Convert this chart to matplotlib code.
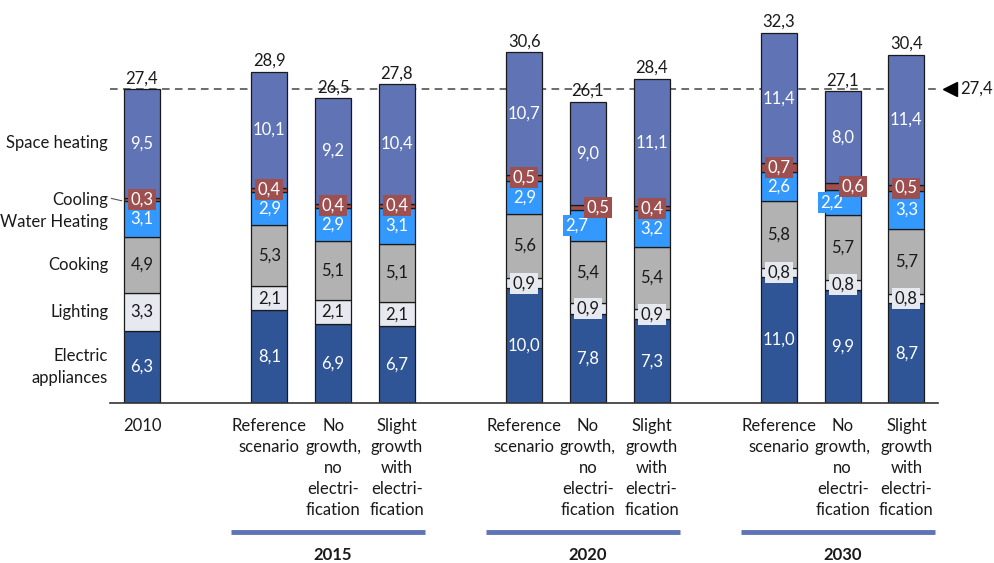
import matplotlib
matplotlib.use("Agg")
import matplotlib.pyplot as plt
import numpy as np

plt.rcParams['font.family'] = ['Lato', 'DejaVu Sans']

# Bar labels and slot positions (empty slots separate the year groups)
bar_labels = ["2010",
              "Reference\nscenario", "No\ngrowth,\nno\nelectri-\nfication", "Slight\ngrowth\nwith\nelectri-\nfication",
              "Reference\nscenario", "No\ngrowth,\nno\nelectri-\nfication", "Slight\ngrowth\nwith\nelectri-\nfication",
              "Reference\nscenario", "No\ngrowth,\nno\nelectri-\nfication", "Slight\ngrowth\nwith\nelectri-\nfication"]
slots = [0, 2, 3, 4, 6, 7, 8, 10, 11, 12]
groups = ["2015", "2020", "2030"]

categories = ["Electric\nappliances", "Lighting", "Cooking", "Water Heating", "Cooling", "Space heating"]
appliances = [6.3, 8.1, 6.9, 6.7, 10.0, 7.8, 7.3, 11.0, 9.9, 8.7]
lighting = [3.3, 2.1, 2.1, 2.1, 0.9, 0.9, 0.9, 0.8, 0.8, 0.8]
cooking = [4.9, 5.3, 5.1, 5.1, 5.6, 5.4, 5.4, 5.8, 5.7, 5.7]
water_heating = [3.1, 2.9, 2.9, 3.1, 2.9, 2.7, 3.2, 2.6, 2.2, 3.3]
cooling = [0.3, 0.4, 0.4, 0.4, 0.5, 0.5, 0.4, 0.7, 0.6, 0.5]
space_heating = [9.5, 10.1, 9.2, 10.4, 10.7, 9.0, 11.1, 11.4, 8.0, 11.4]
totals = [27.4, 28.9, 26.5, 27.8, 30.6, 26.1, 28.4, 32.3, 27.1, 30.4]
baseline_2010 = 27.4

series = [appliances, lighting, cooking, water_heating, cooling, space_heating]
colors = ["#2F5597", "#E6E9EF", "#B2B2B2", "#3399FF", "#9E4F4F", "#5F73B5"]
text_colors = ["white", "#1a1a1a", "#1a1a1a", "white", "white", "white"]

FS = 12
W, H = 994, 563
fig = plt.figure(figsize=(W / 100, H / 100), dpi=100)

# Axes placed so that slot 0 sits at x=142px, slot spacing 63.7px, y unit 11.46px
px_left, px_right = 110, 938
px_base, px_top = 403, 20
slot_px = 63.7
x0_px = 142
unit_px = 11.46
ax = fig.add_axes([px_left / W, 1 - px_base / H, (px_right - px_left) / W, (px_base - px_top) / H])
ax.set_xlim((px_left - x0_px) / slot_px, (px_right - x0_px) / slot_px)
ax.set_ylim(0, (px_base - px_top) / unit_px)
for s in ["top", "right", "left"]:
    ax.spines[s].set_visible(False)
ax.spines["bottom"].set_color("#333333")
ax.spines["bottom"].set_linewidth(1.2)
ax.set_yticks([])
ax.tick_params(axis="x", length=0, pad=11)
ax.set_xticks(slots)
ax.set_xticklabels(bar_labels, fontsize=FS, color="#1a1a1a", linespacing=1.38, va="top")

bw = 0.565
x = np.array(slots, dtype=float)
bottom = np.zeros(len(x))
seg_centers = []
for vals, col in zip(series, colors):
    v = np.array(vals)
    ax.bar(x, v, bw, bottom=bottom, color=col, edgecolor="#1a1a1a", linewidth=0.9, zorder=2)
    seg_centers.append(bottom + v / 2)
    bottom = bottom + v

# Label offsets (in slots) for crowded bars
x_shift = {(3, 5): -0.17, (4, 5): 0.16, (3, 8): -0.17, (4, 8): 0.16}

for k, (vals, tc) in enumerate(zip(series, text_colors)):
    for i, v in enumerate(vals):
        txt = f"{v:.1f}".replace(".", ",")
        xi = x[i] + x_shift.get((k, i), 0)
        yi = seg_centers[k][i]
        box = None
        if k == 4:
            box = dict(boxstyle="square,pad=0.15", fc=colors[4], ec="none")
        elif k == 1 and v < 1.5:
            box = dict(boxstyle="square,pad=0.15", fc=colors[1], ec="none")
        elif k == 3 and (k, i) in x_shift:
            box = dict(boxstyle="square,pad=0.15", fc=colors[3], ec="none")
        ax.text(xi, yi, txt, ha="center", va="center", fontsize=FS, color=tc,
                bbox=box, zorder=4)

# Totals on top of each bar
for i, t in enumerate(totals):
    ax.text(x[i], bottom[i] + 0.25, f"{t:.1f}".replace(".", ","), ha="center", va="bottom",
            fontsize=FS, color="#1a1a1a", zorder=4)

# 2010 reference level
ax.plot([-0.5, 12.5], [baseline_2010, baseline_2010], ls=(0, (5, 3.5)), color="#444444",
        lw=1.1, zorder=1, clip_on=False)
ax.plot([12.68], [baseline_2010], marker="<", ms=10, color="black", clip_on=False)
ax.text(12.84, baseline_2010, f"{baseline_2010:.1f}".replace(".", ","), ha="left", va="center",
        fontsize=FS, color="#1a1a1a", clip_on=False)

# Category names beside the 2010 bar
label_y = [c[0] for c in seg_centers]
label_y[3] -= 0.25
for k, name in enumerate(categories):
    ax.text(-0.53, label_y[k], name, ha="right", va="center", fontsize=FS, color="#1a1a1a",
            linespacing=1.45, clip_on=False)
ax.plot([-0.48, -0.32], [seg_centers[4][0] + 0.1, seg_centers[4][0] - 0.1], color="#555555",
        lw=0.8, clip_on=False)

# Year group underlines and titles
for g, mid in zip(groups, [3, 7, 11]):
    ax.plot([mid - 1.6, mid + 1.45], [-11.3, -11.3], color="#5F73B5", lw=3.5,
            solid_capstyle="butt", clip_on=False)
    ax.text(mid, -13.3, g, ha="center", va="center", fontsize=FS, fontweight="bold",
            color="#1a1a1a", clip_on=False)

fig.savefig("out.png", dpi=100)
